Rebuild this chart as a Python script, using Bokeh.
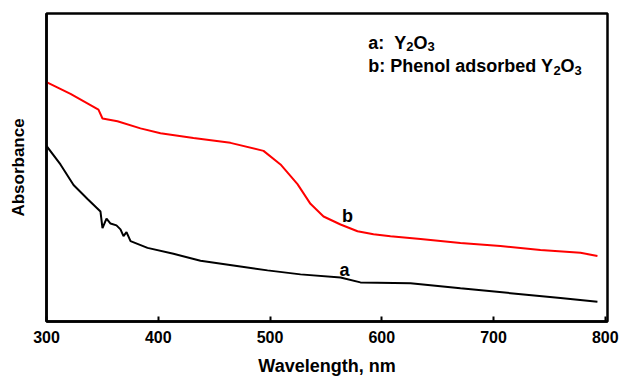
from bokeh.plotting import figure
from bokeh.models import Label, FixedTicker, Range1d
from bokeh.embed import file_html
from bokeh.resources import INLINE

# Wavelength (nm) and absorbance (a.u.)
# b: Phenol adsorbed Y2O3
wl_b = [300, 321.5, 346.5, 350.1, 363.5, 384.1, 402.0, 431.5, 464.6, 494.2, 509.4, 524.6,
        536.2, 547.9, 563.1, 578.3, 592.6, 607.8, 634.7, 670.4, 706.2, 742.0, 777.8, 793.0]
abs_b = [0.777, 0.739, 0.688, 0.659, 0.650, 0.627, 0.611, 0.596, 0.580, 0.554, 0.510, 0.446,
         0.382, 0.341, 0.315, 0.293, 0.283, 0.277, 0.268, 0.255, 0.245, 0.232, 0.223, 0.213]

# a: Y2O3
wl_a = [300, 312.5, 324.2, 336.7, 348.3, 350.1, 353.7, 357.3, 362.6, 366.2, 368.9, 371.6,
        375.2, 390.4, 413.6, 437.8, 467.3, 497.8, 527.3, 563.1, 580.9, 625.7, 670.4, 715.2,
        759.9, 793.0]
abs_a = [0.570, 0.510, 0.443, 0.398, 0.357, 0.303, 0.334, 0.318, 0.312, 0.299, 0.277, 0.290,
         0.261, 0.239, 0.220, 0.197, 0.182, 0.166, 0.153, 0.143, 0.127, 0.124, 0.108, 0.092,
         0.076, 0.064]

x_ticks = [300, 400, 500, 600, 700, 800]

FONT = "Liberation Sans"
NBSP = "\u00a0"
# Arial/Liberation Sans Bold advance widths (per 1000 em) for laying out subscripts
ADV = {'a': 556, ':': 333, ' ': 278, NBSP: 278, 'Y': 667, 'O': 778, '2': 556, '3': 556,
       'b': 611, 'P': 667, 'h': 611, 'e': 556, 'n': 611, 'o': 611, 'l': 278, 'd': 611,
       's': 556, 'r': 389}

p = figure(width=619, height=378, output_backend="svg", toolbar_location=None,
           x_range=Range1d(300, 802), y_range=Range1d(0, 1),
           min_border_left=46, min_border_top=13, min_border_right=12, min_border_bottom=51)
p.background_fill_color = "white"
p.border_fill_color = "white"
p.grid.visible = False
p.outline_line_color = "black"
p.outline_line_width = 2.5

p.line(wl_b, abs_b, line_color="#ff0000", line_width=2)
p.line(wl_a, abs_a, line_color="black", line_width=2)

xa = p.xaxis[0]
xa.ticker = FixedTicker(ticks=x_ticks)
xa.minor_tick_line_color = None
xa.major_tick_in = 5
xa.major_tick_out = 0
xa.major_tick_line_width = 2
xa.major_tick_line_color = "black"
xa.axis_line_width = 2.5
xa.axis_line_color = "black"
xa.major_label_text_font = FONT
xa.major_label_text_font_style = "bold"
xa.major_label_text_font_size = "16px"
xa.major_label_text_color = "black"
xa.major_label_standoff = 9
xa.axis_label = "Wavelength, nm"
xa.axis_label_text_font = FONT
xa.axis_label_text_font_style = "bold"
xa.axis_label_text_font_size = "18px"
xa.axis_label_text_color = "black"
xa.axis_label_standoff = 10

ya = p.yaxis[0]
ya.ticker = FixedTicker(ticks=[])
ya.minor_tick_line_color = None
ya.major_tick_line_color = None
ya.major_label_text_font_size = "0px"
ya.axis_line_width = 2.5
ya.axis_line_color = "black"
ya.axis_label = "Absorbance"
ya.axis_label_text_font = FONT
ya.axis_label_text_font_style = "bold"
ya.axis_label_text_font_size = "17px"
ya.axis_label_text_color = "black"
ya.axis_label_standoff = 19


def rich_label(x, y, segments):
    off = 0.0
    for txt, size, dy in segments:
        p.add_layout(Label(x=x, y=y, x_offset=off, y_offset=dy, text=txt, text_font=FONT,
                           text_font_style="bold", text_font_size=f"{size}px",
                           text_color="black", text_baseline="alphabetic", text_align="left"))
        off += sum(ADV[c] for c in txt) * size / 1000.0


MAIN, SUB, DROP = 18, 13, -4
rich_label(588, 0.9045, [("a:" + NBSP + NBSP + "Y", MAIN, 0), ("2", SUB, DROP), ("O", MAIN, 0),
                         ("3", SUB, DROP)])
rich_label(588, 0.828, [("b: Phenol adsorbed Y", MAIN, 0), ("2", SUB, DROP), ("O", MAIN, 0),
                        ("3", SUB, DROP)])

for txt, x, y in [("b", 569.3, 0.341), ("a", 566.6, 0.166)]:
    p.add_layout(Label(x=x, y=y, text=txt, text_font=FONT, text_font_style="bold",
                       text_font_size="18px", text_color="black",
                       text_baseline="middle", text_align="center"))

open("out.html", "w").write(file_html(p, INLINE))
